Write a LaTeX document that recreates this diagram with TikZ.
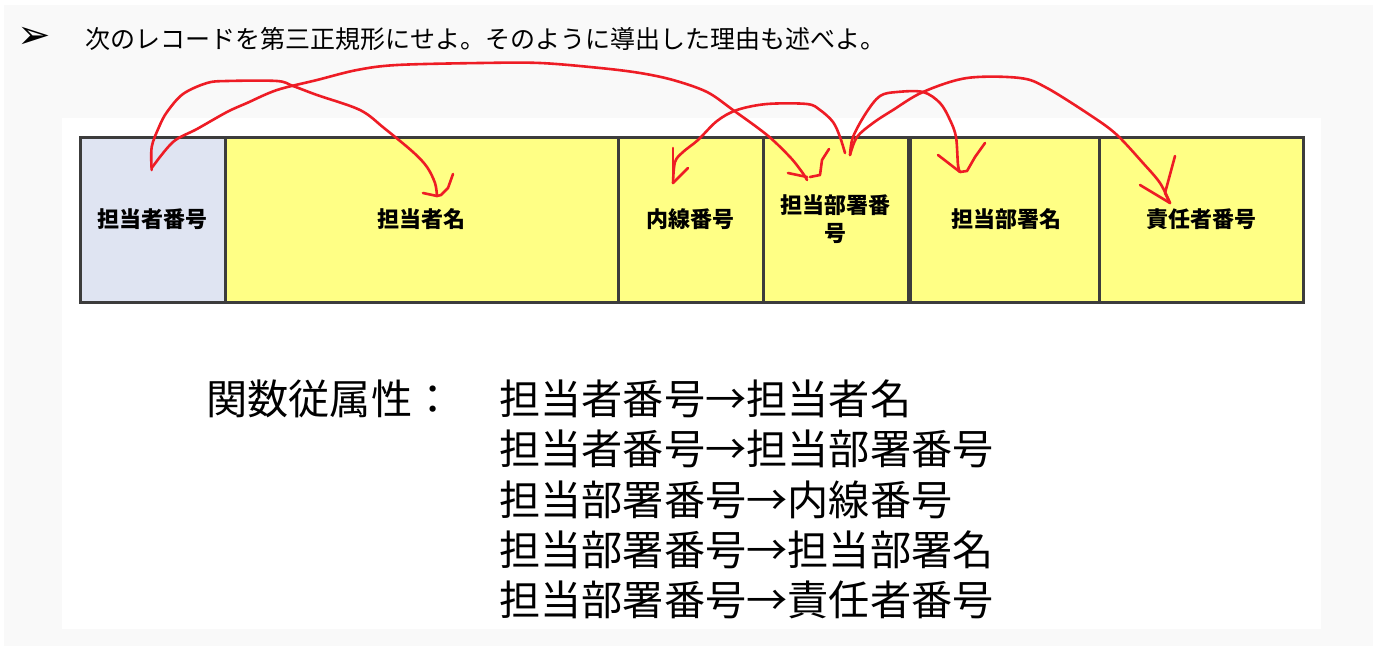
\documentclass[tikz,border=0pt]{standalone}
\usepackage{fontspec}
\newfontfamily\jpfont{Noto Sans CJK JP}
\newfontfamily\dejavufont{DejaVu Sans}
\definecolor{pagegray}{HTML}{F9F9F9}
\definecolor{cellborder}{HTML}{3C3C3C}
\definecolor{keyblue}{HTML}{DFE4F2}
\definecolor{attryellow}{HTML}{FFFF85}
\definecolor{handred}{HTML}{EE1C25}
\tikzset{
  titletext/.style={font=\jpfont\fontsize{25}{30}\selectfont, anchor=west, inner sep=0pt},
  bulletmark/.style={font=\dejavufont\fontsize{40}{44}\selectfont, inner sep=0pt},
  cellbox/.style={draw=cellborder, line width=3pt, minimum height=165pt, inner sep=0pt,
    font=\jpfont\bfseries\fontsize{22}{28}\selectfont, align=center, fill=attryellow},
  fdtext/.style={font=\jpfont\fontsize{41.2}{50}\selectfont, anchor=west, inner sep=0pt},
  hand/.style={draw=handred, line width=2.6pt, line cap=round, line join=round},
}
\begin{document}
\begin{tikzpicture}[x=1pt,y=-1pt]
\useasboundingbox (0,0) rectangle (1373,654);
\fill[white] (0,0) rectangle (1373,654);
\fill[pagegray] (4,5) rectangle (1373,646);
\fill[white] (62,118) rectangle (1321,629);

% title
\node[bulletmark] (bullet) at (34,38) {➢};
\node[titletext] (title) at (85,39) {次のレコードを第三正規形にせよ。そのように導出した理由も述べよ。};

% record cells
\node[cellbox, fill=keyblue, minimum width=145pt] (c1) at (152.5,219.5) {担当者番号};
\node[cellbox, minimum width=393pt] (c2) at (421.5,219.5) {担当者名};
\node[cellbox, minimum width=145pt] (c3) at (690.5,219.5) {内線番号};
\node[cellbox, minimum width=145pt] (c4) at (835.5,219.5) {担当部署番\\号};
\node[cellbox, minimum width=191pt] (c5) at (1006,219.5) {担当部署名};
\node[cellbox, minimum width=204pt] (c6) at (1201,219.5) {責任者番号};

% functional dependencies
\node[fdtext] (fdlabel) at (206,399) {関数従属性：};
\node[fdtext] (fd1) at (499,399) {担当者番号→担当者名};
\node[fdtext] (fd2) at (499,449.3) {担当者番号→担当部署番号};
\node[fdtext] (fd3) at (499,499.6) {担当部署番号→内線番号};
\node[fdtext] (fd4) at (499,549.9) {担当部署番号→担当部署名};
\node[fdtext] (fd5) at (499,600.2) {担当部署番号→責任者番号};

% hand-drawn arrows: start and tip points
\coordinate (s1) at (151.7,170);
\coordinate (s2) at (151.7,168);
\coordinate (s3) at (845,153);
\coordinate (s4) at (850,155);
\coordinate (t1) at (437,196);
\coordinate (t2) at (807,180);
\coordinate (t3) at (673,183);
\coordinate (t4) at (960,172);
\coordinate (t5) at (1170,203);

% 担当者番号 -> 担当者名
\draw[hand] plot[smooth, tension=0.55] coordinates {(s1) (151.7,147) (159,127) (167,112) (183,94) (207,83) (227,81) (277,81) (293,86) (317,95) (360,110) (384,128) (413,152) (427,167) (435,183) (t1)};
\draw[hand] (423,193) -- (t1);
\draw[hand] (453,174) -- (448,188) -- (441,195) -- (t1);

% 担当者番号 -> 担当部署番号
\draw[hand] plot[smooth, tension=0.55] coordinates {(s2) (173,142) (197,129) (227,112) (247,103) (277,90) (317,80) (357,70) (397,65) (480,63) (540,63) (600,68) (640,73) (673,80) (707,92) (733,110) (767,135) (790,157) (802,172) (t2)};
\draw[hand] (788,173) -- (807,177);
\draw[hand] (829,149) -- (822,160) -- (820,175) -- (810,177);

% 担当部署番号 -> 内線番号
\draw[hand] plot[smooth, tension=0.55] coordinates {(s3) (840,137) (833,122) (820,110) (807,104) (767,104) (737,110) (717,121) (698,140) (683,152) (675,162) (t3)};
\draw[hand] (673,148) -- (t3);
\draw[hand] (688,168) -- (t3);

% 担当部署番号 -> 担当部署名
\draw[hand] plot[smooth, tension=0.55] coordinates {(s4) (853,137) (866,113) (880,96) (897,92) (923,92) (940,103) (950,120) (956,137) (958,165) (t4)};
\draw[hand] (938,155) -- (t4);
\draw[hand] (985,143) -- (975,157) -- (967,171) -- (t4);

% 担当部署番号 -> 責任者番号
\draw[hand] plot[smooth, tension=0.55] coordinates {(s4) (857,137) (873,123) (893,110) (923,92) (967,78) (1020,78) (1047,88) (1093,117) (1117,135) (1143,163) (1160,183) (t5)};
\draw[hand] (1140,185) -- (t5);
\draw[hand] (1175,156) -- (1165,193) -- (t5);
\end{tikzpicture}
\end{document}
